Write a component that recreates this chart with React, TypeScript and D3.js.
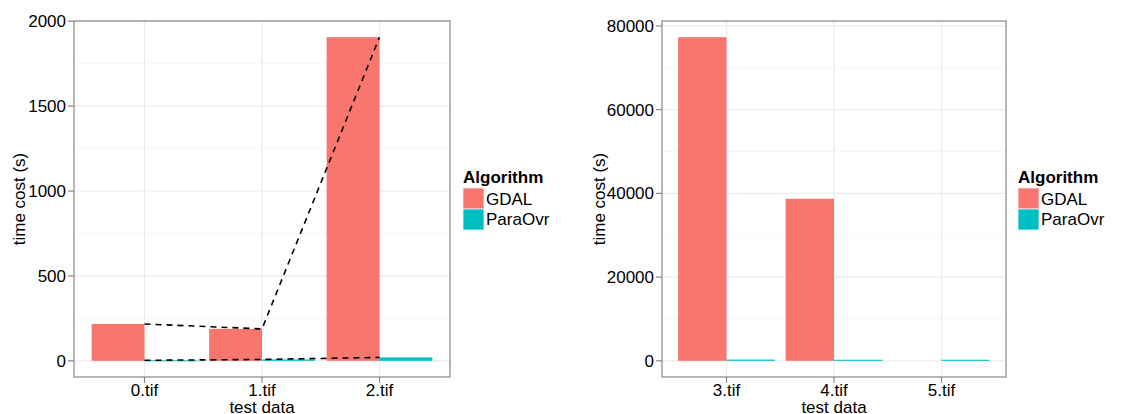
import React, { useEffect, useRef } from 'react';
import * as d3 from 'd3';

const leftFiles = ['0.tif', '1.tif', '2.tif'];
const leftGdal = [217, 188, 1906];
const leftParaOvr = [3, 8, 20];
const leftTicks = [0, 500, 1000, 1500, 2000];

const rightFiles = ['3.tif', '4.tif', '5.tif'];
const rightGdal: (number | null)[] = [77300, 38700, null];
const rightParaOvr = [300, 250, 250];
const rightTicks = [0, 20000, 40000, 60000, 80000];

const algorithms = ['GDAL', 'ParaOvr'];
const colors = ['#F8766D', '#00BFC4'];

const FONT = '"Liberation Sans", Arial, Helvetica, sans-serif';

const App = () => {
  const svgRef = useRef<SVGSVGElement>(null);

  useEffect(() => {
    const svg = d3.select(svgRef.current).html(null);

    const drawPanel = (
      opts: {
        left: number; right: number; top: number; bottom: number;
        files: string[]; gdal: (number | null)[]; para: number[]; ticks: number[];
        lines: boolean; titleX: number; legendX: number;
      },
    ) => {
      const { left, right, top, bottom, files, gdal, para, ticks } = opts;
      const g = svg.append('g');

      const maxV = d3.max([...gdal, ...para].filter((v) => v != null) as number[]) as number;
      const pad = maxV * 0.05;
      const y = d3.scaleLinear().domain([-pad, maxV + pad]).range([bottom, top]);
      const x = d3.scalePoint<string>().domain(files).range([left, right]).padding(0.6);
      const step = x.step();
      const bw = step * 0.45;

      // background
      g.append('rect').attr('x', left).attr('y', top).attr('width', right - left).attr('height', bottom - top)
        .attr('fill', 'white');

      // minor grid
      const minors = ticks.slice(0, -1).map((t, i) => (t + ticks[i + 1]) / 2);
      const last = ticks[ticks.length - 1] + (ticks[1] - ticks[0]) / 2;
      if (last <= maxV + pad) minors.push(last);
      g.selectAll('.minor').data(minors).join('line')
        .attr('x1', left).attr('x2', right)
        .attr('y1', (d) => y(d)).attr('y2', (d) => y(d))
        .attr('stroke', '#f7f7f7').attr('stroke-width', 1);

      // major grid
      g.selectAll('.major').data(ticks).join('line')
        .attr('x1', left).attr('x2', right)
        .attr('y1', (d) => y(d)).attr('y2', (d) => y(d))
        .attr('stroke', '#ebebeb').attr('stroke-width', 1.2);
      g.selectAll('.vmajor').data(files).join('line')
        .attr('x1', (d) => x(d)!).attr('x2', (d) => x(d)!)
        .attr('y1', top).attr('y2', bottom)
        .attr('stroke', '#ebebeb').attr('stroke-width', 1.2);

      // bars
      const barData: { f: string; k: number; v: number }[] = [];
      files.forEach((f, i) => {
        if (gdal[i] != null) barData.push({ f, k: 0, v: gdal[i] as number });
        barData.push({ f, k: 1, v: para[i] });
      });
      g.selectAll('.bar').data(barData).join('rect')
        .attr('x', (d) => x(d.f)! - bw + d.k * bw)
        .attr('width', bw)
        .attr('y', (d) => y(d.v))
        .attr('height', (d) => Math.max(y(0) - y(d.v), 1))
        .attr('fill', (d) => colors[d.k]);

      // dashed trend lines
      if (opts.lines) {
        [gdal, para].forEach((series) => {
          const line = d3.line<number | null>()
            .x((_, i) => x(files[i])!)
            .y((d) => y(d as number));
          g.append('path').datum(series).attr('d', line)
            .attr('fill', 'none').attr('stroke', 'black')
            .attr('stroke-width', 1.6).attr('stroke-dasharray', '6,5');
        });
      }

      // border
      g.append('rect').attr('x', left).attr('y', top).attr('width', right - left).attr('height', bottom - top)
        .attr('fill', 'none').attr('stroke', '#888').attr('stroke-width', 1.2);

      // y ticks
      g.selectAll('.yt').data(ticks).join('line')
        .attr('x1', left - 6).attr('x2', left)
        .attr('y1', (d) => y(d)).attr('y2', (d) => y(d))
        .attr('stroke', '#888').attr('stroke-width', 1.2);
      g.selectAll('.yl').data(ticks).join('text')
        .attr('x', left - 8).attr('y', (d) => y(d) + 6)
        .attr('text-anchor', 'end').attr('font-size', 17).attr('font-family', FONT)
        .attr('fill', 'black').text((d) => String(d));

      // x ticks
      g.selectAll('.xt').data(files).join('line')
        .attr('x1', (d) => x(d)!).attr('x2', (d) => x(d)!)
        .attr('y1', bottom).attr('y2', bottom + 6)
        .attr('stroke', '#888').attr('stroke-width', 1.2);
      g.selectAll('.xl').data(files).join('text')
        .attr('x', (d) => x(d)!).attr('y', 396)
        .attr('text-anchor', 'middle').attr('font-size', 17).attr('font-family', FONT)
        .attr('fill', 'black').text((d) => d);

      // axis titles
      g.append('text').attr('x', (left + right) / 2).attr('y', 413)
        .attr('text-anchor', 'middle').attr('font-size', 17).attr('font-family', FONT)
        .text('test data');
      g.append('text').attr('transform', `translate(${opts.titleX},${(top + bottom) / 2}) rotate(-90)`)
        .attr('text-anchor', 'middle').attr('font-size', 17).attr('font-family', FONT)
        .text('time cost (s)');

      // legend
      const lx = opts.legendX;
      g.append('text').attr('x', lx).attr('y', 183)
        .attr('font-size', 17).attr('font-weight', 'bold').attr('font-family', FONT)
        .text('Algorithm');
      g.selectAll('.lk').data(algorithms).join('rect')
        .attr('x', lx).attr('y', (_, i) => 188 + i * 21)
        .attr('width', 21).attr('height', 21)
        .attr('fill', (_, i) => colors[i]).attr('stroke', '#f2f2f2').attr('stroke-width', 0.8);
      g.selectAll('.ll').data(algorithms).join('text')
        .attr('x', lx + 23).attr('y', (_, i) => 205 + i * 20)
        .attr('font-size', 17).attr('font-family', FONT)
        .text((d) => d);
    };

    drawPanel({
      left: 74, right: 450, top: 21, bottom: 377,
      files: leftFiles, gdal: leftGdal, para: leftParaOvr, ticks: leftTicks,
      lines: true, titleX: 25, legendX: 463,
    });
    drawPanel({
      left: 662, right: 1006, top: 21, bottom: 377,
      files: rightFiles, gdal: rightGdal, para: rightParaOvr, ticks: rightTicks,
      lines: false, titleX: 605, legendX: 1018,
    });
  }, []);

  return (
    <svg
      ref={svgRef}
      width={1136}
      height={414}
      style={{ position: 'absolute', left: 0, top: 0, background: 'white' }}
    />
  );
};

export default App;
